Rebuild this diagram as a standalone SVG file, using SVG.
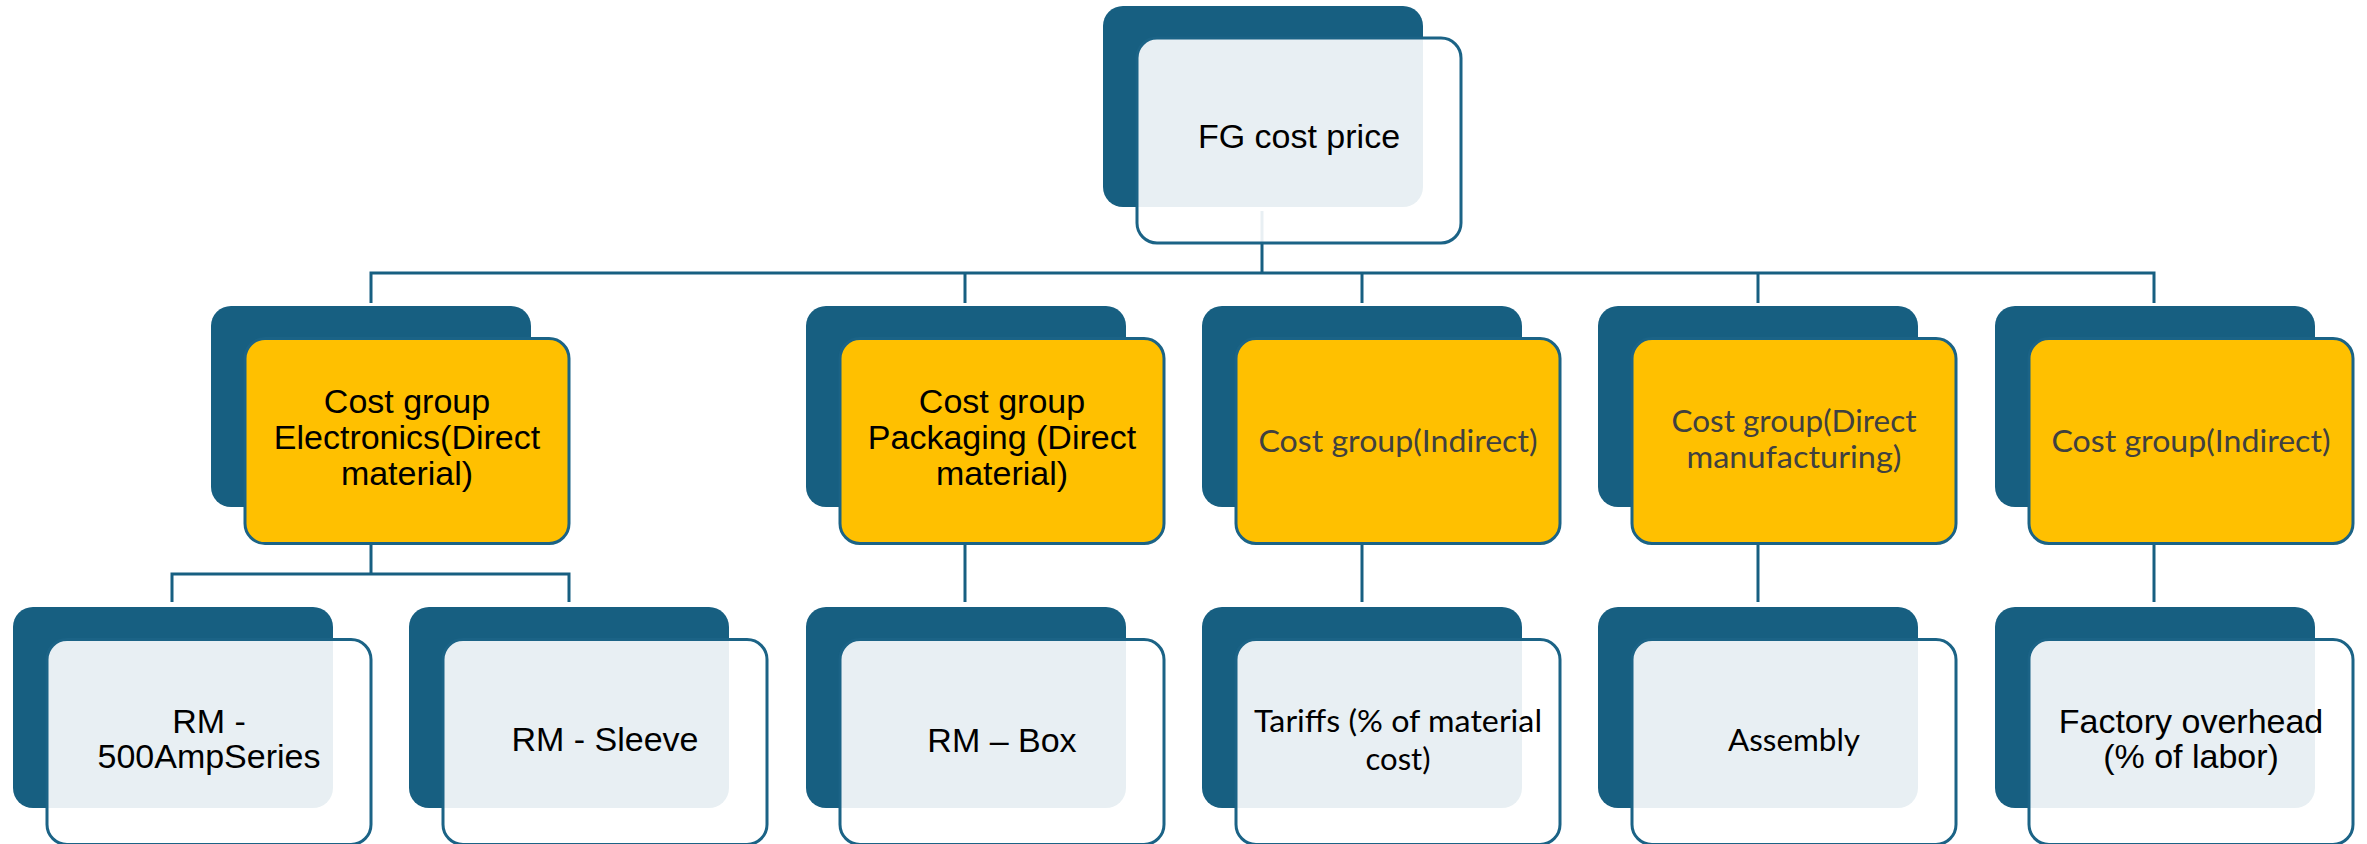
<svg xmlns="http://www.w3.org/2000/svg" width="2367" height="844" viewBox="0 0 2367 844">
  <style>
    .back { fill: #175f81; }
    .front { fill: #ffffff; fill-opacity: 0.9; stroke: #1b6386; stroke-width: 3; }
    .group { fill: #ffc000; stroke: #1b6386; stroke-width: 3; }
    .link { fill: none; stroke: #175f81; stroke-width: 3; }
    .sans { font-family: "Liberation Sans", Arial, sans-serif; font-size: 34px; fill: #000000; text-anchor: middle; }
    .hum { font-family: Lato, "Open Sans", sans-serif; font-size: 31px; text-anchor: middle; }
    .gray { fill: #404040; }
    .dark { fill: #000000; }
  </style>

  <!-- connectors, drawn first so the translucent cards sit over them -->
  <g id="connectors">
    <path class="link" d="M1262 211 V273"/>
    <path class="link" d="M371 303 V273 H2154 V303"/>
    <path class="link" d="M965 273 V303"/>
    <path class="link" d="M1362 273 V303"/>
    <path class="link" d="M1758 273 V303"/>
    <path class="link" d="M371 545 V574"/>
    <path class="link" d="M172 602 V574 H569 V602"/>
    <path class="link" d="M965 545 V602"/>
    <path class="link" d="M1362 545 V602"/>
    <path class="link" d="M1758 545 V602"/>
    <path class="link" d="M2154 545 V602"/>
  </g>

  <!-- level 1 -->
  <g id="fg-cost-price">
    <rect class="back" x="1103" y="6" width="320" height="201" rx="20"/>
    <rect class="front" x="1137" y="38" width="324" height="205" rx="20"/>
    <text class="sans" x="1299" y="148">FG cost price</text>
  </g>

  <!-- level 2: cost groups -->
  <g id="cg-electronics">
    <rect class="back" x="211" y="306" width="320" height="201" rx="20"/>
    <rect class="group" x="245" y="338.5" width="324" height="205" rx="20"/>
    <text class="sans" x="407" y="413">Cost group</text>
    <text class="sans" x="407" y="449">Electronics(Direct</text>
    <text class="sans" x="407" y="485">material)</text>
  </g>

  <g id="cg-packaging">
    <rect class="back" x="806" y="306" width="320" height="201" rx="20"/>
    <rect class="group" x="840" y="338.5" width="324" height="205" rx="20"/>
    <text class="sans" x="1002" y="413">Cost group</text>
    <text class="sans" x="1002" y="449">Packaging (Direct</text>
    <text class="sans" x="1002" y="485">material)</text>
  </g>

  <g id="cg-indirect-1">
    <rect class="back" x="1202" y="306" width="320" height="201" rx="20"/>
    <rect class="group" x="1236" y="338.5" width="324" height="205" rx="20"/>
    <text class="hum gray" x="1398" y="452" textLength="279" lengthAdjust="spacingAndGlyphs">Cost group(Indirect)</text>
  </g>

  <g id="cg-direct-manufacturing">
    <rect class="back" x="1598" y="306" width="320" height="201" rx="20"/>
    <rect class="group" x="1632" y="338.5" width="324" height="205" rx="20"/>
    <text class="hum gray" x="1794" y="432" textLength="245" lengthAdjust="spacingAndGlyphs">Cost group(Direct</text>
    <text class="hum gray" x="1794" y="468" textLength="215" lengthAdjust="spacingAndGlyphs">manufacturing)</text>
  </g>

  <g id="cg-indirect-2">
    <rect class="back" x="1995" y="306" width="320" height="201" rx="20"/>
    <rect class="group" x="2029" y="338.5" width="324" height="205" rx="20"/>
    <text class="hum gray" x="2191" y="452" textLength="279" lengthAdjust="spacingAndGlyphs">Cost group(Indirect)</text>
  </g>

  <!-- level 3: cost items -->
  <g id="rm-500ampseries">
    <rect class="back" x="13" y="607" width="320" height="201" rx="20"/>
    <rect class="front" x="47" y="639.5" width="324" height="205" rx="20"/>
    <text class="sans" x="209" y="733">RM -</text>
    <text class="sans" x="209" y="768">500AmpSeries</text>
  </g>

  <g id="rm-sleeve">
    <rect class="back" x="409" y="607" width="320" height="201" rx="20"/>
    <rect class="front" x="443" y="639.5" width="324" height="205" rx="20"/>
    <text class="sans" x="605" y="751">RM - Sleeve</text>
  </g>

  <g id="rm-box">
    <rect class="back" x="806" y="607" width="320" height="201" rx="20"/>
    <rect class="front" x="840" y="639.5" width="324" height="205" rx="20"/>
    <text class="sans" x="1002" y="752">RM – Box</text>
  </g>

  <g id="tariffs">
    <rect class="back" x="1202" y="607" width="320" height="201" rx="20"/>
    <rect class="front" x="1236" y="639.5" width="324" height="205" rx="20"/>
    <text class="hum dark" x="1398" y="732" textLength="288" lengthAdjust="spacingAndGlyphs">Tariffs (% of material</text>
    <text class="hum dark" x="1398" y="770" textLength="65" lengthAdjust="spacingAndGlyphs">cost)</text>
  </g>

  <g id="assembly">
    <rect class="back" x="1598" y="607" width="320" height="201" rx="20"/>
    <rect class="front" x="1632" y="639.5" width="324" height="205" rx="20"/>
    <text class="hum dark" x="1794" y="751" textLength="132" lengthAdjust="spacingAndGlyphs">Assembly</text>
  </g>

  <g id="factory-overhead">
    <rect class="back" x="1995" y="607" width="320" height="201" rx="20"/>
    <rect class="front" x="2029" y="639.5" width="324" height="205" rx="20"/>
    <text class="sans" x="2191" y="733">Factory overhead</text>
    <text class="sans" x="2191" y="768">(% of labor)</text>
  </g>
</svg>
